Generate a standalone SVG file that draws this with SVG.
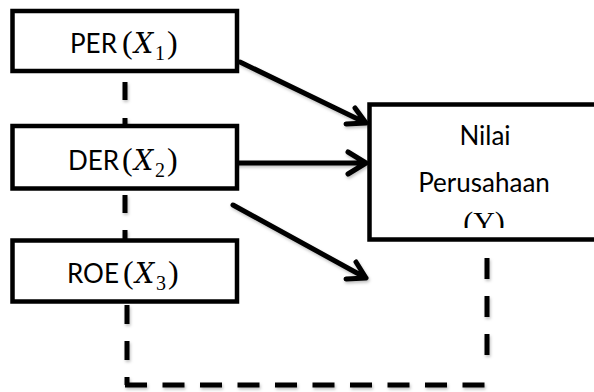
<svg xmlns="http://www.w3.org/2000/svg" width="594" height="392" viewBox="0 0 594 392">
<defs>
<style>
.box{fill:#fff;stroke:#000;stroke-width:4.5}
.lbl{font-family:Lato,"Open Sans","Liberation Sans",sans-serif;font-size:26px;fill:#000}
.p{font-family:"Liberation Serif","DejaVu Serif",serif;font-size:32px;fill:#000}
.x{font-family:"DejaVu Serif","Liberation Serif",serif;font-size:27px;font-style:italic;fill:#000}
.s{font-family:"Liberation Serif","DejaVu Serif",serif;font-size:20px;fill:#000}
.y{font-family:"Liberation Serif","DejaVu Serif",serif;font-size:30px;fill:#000}
.arr{fill:none;stroke:#000;stroke-width:5;stroke-linecap:round;stroke-linejoin:round}
.dash{fill:none;stroke:#000;stroke-width:5;stroke-linecap:butt}
</style>
<filter id="sh" x="-20%" y="-20%" width="140%" height="140%">
<feDropShadow dx="1" dy="2" stdDeviation="1.5" flood-color="#000" flood-opacity="0.25"/>
</filter>
<clipPath id="yclip"><rect x="372" y="107" width="230" height="121"/></clipPath>
</defs>
<g id="connectors" filter="url(#sh)">
<line class="dash" x1="125" y1="82" x2="125" y2="126" stroke-dasharray="18 18"/>
<line class="dash" x1="125" y1="195" x2="125" y2="240" stroke-dasharray="18 17"/>
<line class="dash" x1="127" y1="305" x2="127" y2="385" stroke-dasharray="19 17"/>
<line class="dash" x1="125" y1="385" x2="485" y2="385" stroke-dasharray="22 15.5"/>
<line class="dash" x1="487" y1="258" x2="487" y2="355" stroke-dasharray="21 17"/>
<path class="arr" d="M240 62 L366 123 M355 108 L366 123 L346 124"/>
<path class="arr" d="M237 163 L366 163 M348 152 L366 163 L348 174"/>
<path class="arr" d="M233 205 L366 278 M356 262 L366 278 L346 279"/>
</g>
<g id="per">
<rect class="box" x="12.5" y="11" width="224.5" height="60"/>
<text class="lbl" x="70" y="53">PER</text>
<text class="p" x="122" y="53">(</text>
<text class="x" x="134" y="53">X</text>
<text class="s" x="155" y="60">1</text>
<text class="p" x="167" y="53">)</text>
</g>
<g id="der">
<rect class="box" x="12.5" y="126" width="224.5" height="62.5"/>
<text class="lbl" x="68" y="170">DER</text>
<text class="p" x="122" y="170">(</text>
<text class="x" x="134" y="170">X</text>
<text class="s" x="155" y="177">2</text>
<text class="p" x="167" y="170">)</text>
</g>
<g id="roe">
<rect class="box" x="12.5" y="240.5" width="224.5" height="61"/>
<text class="lbl" x="67" y="283">ROE</text>
<text class="p" x="123" y="283">(</text>
<text class="x" x="135" y="283">X</text>
<text class="s" x="156" y="290">3</text>
<text class="p" x="168" y="283">)</text>
</g>
<g id="nilai">
<rect class="box" x="369.5" y="104.5" width="240" height="135"/>
<text class="lbl" x="485" y="145" text-anchor="middle">Nilai</text>
<text class="lbl" x="484" y="192" text-anchor="middle">Perusahaan</text>
<text class="y" x="484" y="232" text-anchor="middle" clip-path="url(#yclip)">(Y)</text>
</g>
</svg>
